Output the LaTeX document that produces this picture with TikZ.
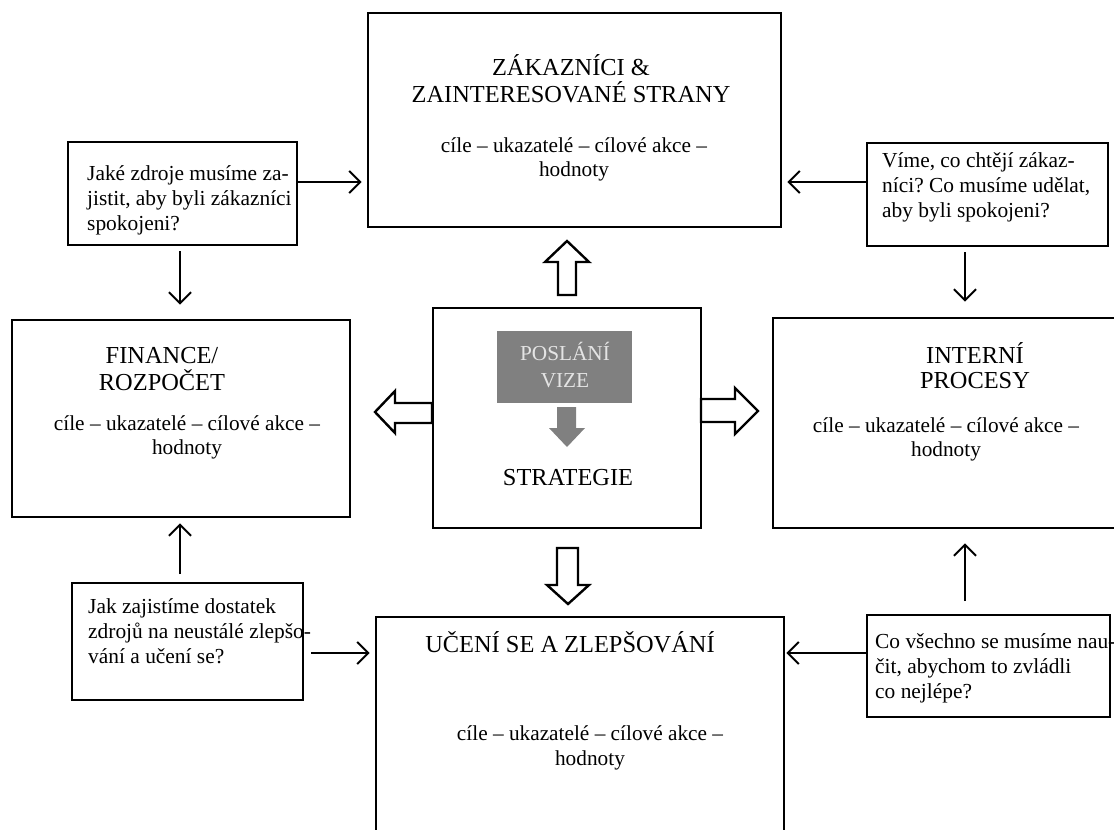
\documentclass[tikz,border=0pt]{standalone}
\usepackage{fontspec}
\setmainfont{Liberation Serif}
\usetikzlibrary{arrows.meta}
\definecolor{grayc}{RGB}{128,128,128}
\definecolor{lightc}{RGB}{228,228,228}
\frenchspacing
\newcommand\mylinesC[2]{\vtop{\baselineskip=#1\relax\lineskiplimit=-30pt\lineskip=0pt\halign{\hfil##\hfil\cr#2\crcr}}}
\newcommand\mylinesL[2]{\vtop{\baselineskip=#1\relax\lineskiplimit=-30pt\lineskip=0pt\halign{##\hfil\cr#2\crcr}}}
\begin{document}
\begin{tikzpicture}[x=1pt,y=-1pt,
  bigbox/.style={draw, line width=2.8pt, inner sep=0pt, fill=white},
  qbox/.style={draw, line width=2pt, inner sep=0pt, fill=white},
  arr/.style={line width=2pt, -{Straight Barb[length=11pt,width=22pt]}},
  blk/.style={draw, line width=2.4pt, fill=white, line join=miter},
  ttl/.style={font=\fontsize{24.4}{27}\selectfont, inner sep=0pt, anchor=base},
  txt/.style={font=\fontsize{21.3}{25}\selectfont, inner sep=0pt, anchor=base},
  qtxt/.style={font=\fontsize{21.4}{25}\selectfont, inner sep=0pt, anchor=base west}]
\useasboundingbox (0,0) rectangle (1114,830);
\clip (0,0) rectangle (1114,830);
\fill[white] (0,0) rectangle (1114,830);
% boxes
\node[bigbox, minimum width=413pt, minimum height=214pt] (top) at (574.5,120) {};
\node[bigbox, minimum width=338pt, minimum height=197pt] (fin) at (181,418.5) {};
\node[bigbox, minimum width=268pt, minimum height=220pt] (ctr) at (567,418) {};
\node[bigbox, minimum width=367pt, minimum height=210pt] (int) at (956.5,423) {};
\node[bigbox, minimum width=408pt, minimum height=283pt] (bot) at (580,758.5) {};
\node[qbox, minimum width=229pt, minimum height=103pt] (q1) at (182.5,193.5) {};
\node[qbox, minimum width=241pt, minimum height=103pt] (q2) at (987.5,194.5) {};
\node[qbox, minimum width=231pt, minimum height=117pt] (q3) at (187.5,641.5) {};
\node[qbox, minimum width=243pt, minimum height=102pt] (q4) at (988.5,666) {};
% texts
\node[ttl] (topT) at (571,75) {\mylinesC{27pt}{ZÁKAZNÍCI \&\cr ZAINTERESOVANÉ STRANY}};
\node[txt] (topB) at (574,152) {\mylinesC{24pt}{cíle – ukazatelé – cílové akce –\cr hodnoty}};
\node[ttl] (finT) at (162,363) {\mylinesC{27pt}{FINANCE/\cr ROZPOČET}};
\node[txt] (finB) at (187,430) {\mylinesC{24pt}{cíle – ukazatelé – cílové akce –\cr hodnoty}};
\node[ttl] (intT) at (975,363) {\mylinesC{25pt}{INTERNÍ\cr PROCESY}};
\node[txt] (intB) at (946,432) {\mylinesC{24pt}{cíle – ukazatelé – cílové akce –\cr hodnoty}};
\node[ttl] (botT) at (570,652) {UČENÍ SE A ZLEPŠOVÁNÍ};
\node[txt] (botB) at (590,740) {\mylinesC{25pt}{cíle – ukazatelé – cílové akce –\cr hodnoty}};
% centre
\node[fill=grayc, inner sep=0pt, minimum width=135pt, minimum height=72pt] (pv) at (564.5,367) {};
\node[txt, text=lightc] (pvT) at (565,360) {\mylinesC{27pt}{POSLÁNÍ\cr VIZE}};
\fill[grayc] (557,407) -- (576,407) -- (576,428) -- (585,428) -- (567,447) -- (549,428) -- (557,428) -- cycle;
\node[ttl] (strat) at (568,485) {STRATEGIE};
% questions
\node[qtxt] (q1T) at (87,180) {\mylinesL{25pt}{Jaké zdroje musíme za-\cr jistit, aby byli zákazníci\cr spokojeni?}};
\node[qtxt] (q2T) at (882,167) {\mylinesL{25pt}{Víme, co chtějí zákaz-\cr níci? Co musíme udělat,\cr aby byli spokojeni?}};
\node[qtxt] (q3T) at (88,613) {\mylinesL{25pt}{Jak zajistíme dostatek\cr zdrojů na neustálé zlepšo-\cr vání a učení se?}};
\node[qtxt] (q4T) at (875,648) {\mylinesL{25pt}{Co všechno se musíme nau-\cr čit, abychom to zvládli\cr co nejlépe?}};
% connectors
\coordinate (a1) at ([yshift=11.5pt]q1.east);
\draw[arr, shorten >=5pt] (a1) -- (a1 -| top.west);
\coordinate (a2) at ([yshift=12.5pt]q2.west);
\draw[arr, shorten >=5pt] (a2) -- (a2 -| top.east);
\coordinate (a3) at ([xshift=-2.5pt]q1.south);
\draw[arr, shorten <=5pt, shorten >=14pt] (a3) -- (a3 |- fin.north);
\coordinate (a4) at ([xshift=-22.5pt]q2.south);
\draw[arr, shorten <=5pt, shorten >=15pt] (a4) -- (a4 |- int.north);
\coordinate (a5) at ([xshift=-7.5pt]q3.north);
\draw[arr, shorten <=8pt, shorten >=5pt] (a5) -- (a5 |- fin.south);
\coordinate (a6) at ([yshift=-11.5pt]q3.east);
\draw[arr, shorten <=7pt, shorten >=5pt] (a6) -- (a6 -| bot.west);
\coordinate (a7) at ([yshift=13pt]q4.west);
\draw[arr, shorten >=1pt] (a7) -- (a7 -| bot.east);
\coordinate (a8) at ([xshift=-23.5pt]q4.north);
\draw[arr, shorten <=13pt, shorten >=14pt] (a8) -- (a8 |- int.south);
% block arrows
\draw[blk] (558,295) -- (558,262) -- (545,262) -- (567,241) -- (589,262) -- (576,262) -- (576,295) -- cycle;
\draw[blk] (432,403) -- (395,403) -- (395,391) -- (375,412) -- (395,433) -- (395,423) -- (432,423) -- cycle;
\draw[blk] (701,399) -- (735,399) -- (735,388) -- (758,411) -- (735,434) -- (735,422) -- (701,422) -- cycle;
\draw[blk] (557,548) -- (578,548) -- (578,585) -- (589,585) -- (568,604) -- (547,585) -- (557,585) -- cycle;
\end{tikzpicture}
\end{document}
